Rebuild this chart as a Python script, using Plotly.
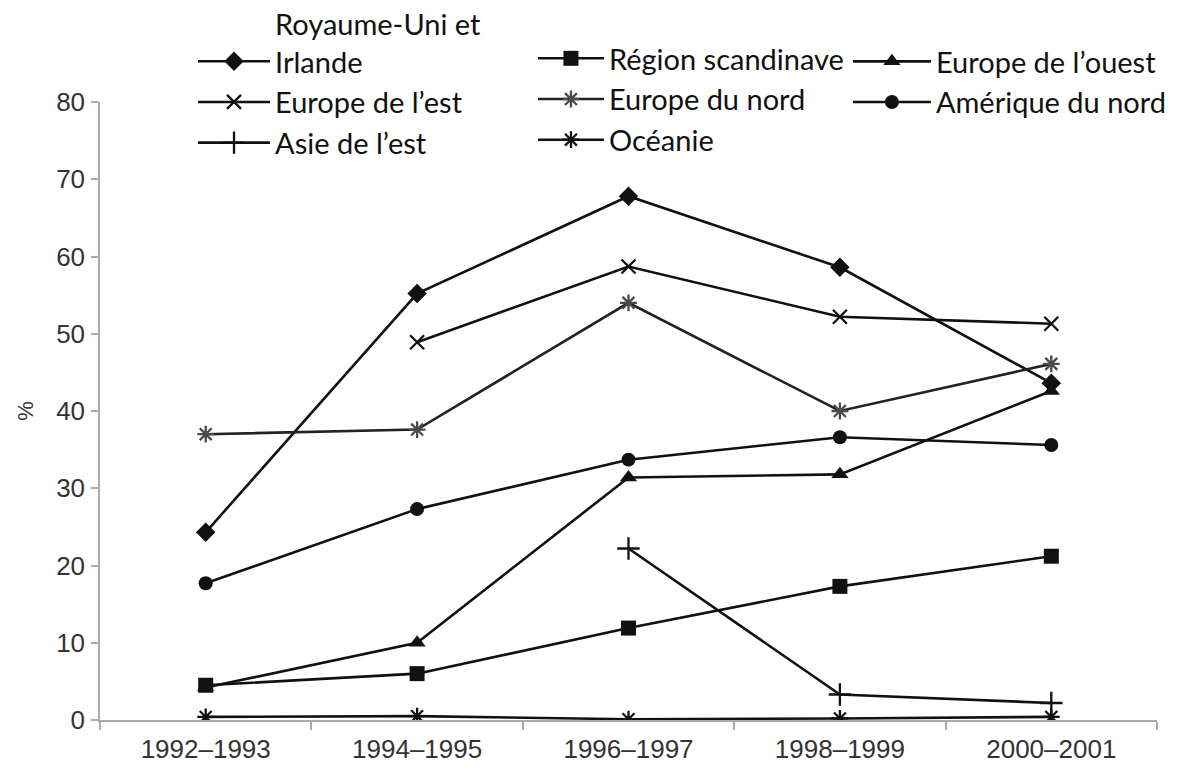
import plotly.graph_objects as go

periods = ["1992–1993", "1994–1995", "1996–1997", "1998–1999", "2000–2001"]

royaume = [24.3, 55.2, 67.8, 58.6, 43.6]
europe_est = [None, 48.9, 58.7, 52.2, 51.3]
asie_est = [None, None, 22.2, 3.3, 2.2]
scandinave = [4.5, 6.0, 11.9, 17.3, 21.2]
europe_nord = [37.0, 37.6, 54.0, 40.0, 46.1]
oceanie = [0.4, 0.5, 0.1, 0.2, 0.4]
europe_ouest = [4.2, 10.0, 31.4, 31.8, 42.6]
amerique = [17.7, 27.3, 33.7, 36.6, 35.6]

names = {
    "royaume": "Royaume-Uni et<br>Irlande",
    "est": "Europe de l’est",
    "asie": "Asie de l’est",
    "scand": "Région scandinave",
    "nord": "Europe du nord",
    "oce": "Océanie",
    "ouest": "Europe de l’ouest",
    "amer": "Amérique du nord",
}

LINE = "#111111"
LW = 2.6

series = [
    ("royaume", royaume, "diamond", 15, LINE, "legend"),
    ("est", europe_est, "x-thin-open", 14, LINE, "legend"),
    ("asie", asie_est, "cross-thin-open", 16, LINE, "legend"),
    ("scand", scandinave, "square", 15, LINE, "legend2"),
    ("nord", europe_nord, "asterisk-open", 14, "#4a4a4a", "legend2"),
    ("oce", oceanie, "asterisk-open", 14, LINE, "legend2"),
    ("ouest", europe_ouest, "triangle-up", 15, LINE, "legend3"),
    ("amer", amerique, "circle", 14, LINE, "legend3"),
]

fig = go.Figure()
for key, vals, sym, size, mcol, leg in series:
    fig.add_trace(go.Scatter(
        x=periods, y=vals, name=names[key], mode="lines+markers",
        line=dict(color="#222222" if key == "nord" else LINE, width=LW),
        marker=dict(symbol=sym, size=size, color=mcol,
                    line=dict(color=mcol, width=2.3 if "open" in sym else 0)),
        connectgaps=False, legend=leg,
    ))

legfont = dict(family="Lato, Open Sans, sans-serif", size=29, color="#111111")
common = dict(bgcolor="rgba(0,0,0,0)", borderwidth=0, font=legfont,
              xanchor="left", yanchor="top", orientation="v",
              valign="bottom", itemclick=False)

fig.update_layout(
    width=1184, height=774,
    paper_bgcolor="white", plot_bgcolor="white",
    margin=dict(l=92, r=35, t=94, b=62, autoexpand=False),
    font=dict(family="Liberation Sans, Arial, sans-serif", color="#333333"),
    legend=dict(x=0.088, y=1.168, itemwidth=72, **common),
    legend2=dict(x=0.4096, y=1.1117, itemwidth=66, **common),
    legend3=dict(x=0.7076, y=1.1068, itemwidth=78, **common),
    xaxis=dict(
        type="category", range=[-0.5, 4.5],
        showline=True, linecolor="#aaaaaa", linewidth=1.5,
        ticks="outside", tickson="boundaries", ticklen=8,
        tickcolor="#aaaaaa", tickwidth=1.5,
        showgrid=False, zeroline=False,
        tickfont=dict(size=26, color="#333333"),
        tickangle=0, ticklabelstandoff=5,
    ),
    yaxis=dict(
        range=[0, 80], dtick=10,
        showline=True, linecolor="#aaaaaa", linewidth=1.5,
        ticks="outside", ticklen=7, tickcolor="#aaaaaa", tickwidth=1.5,
        showgrid=False, zeroline=False,
        tickfont=dict(size=26, color="#333333"),
        ticklabelstandoff=1,
        title=dict(text="%", font=dict(size=22, color="#333333"), standoff=16),
    ),
)

fig.write_html("out.html")
